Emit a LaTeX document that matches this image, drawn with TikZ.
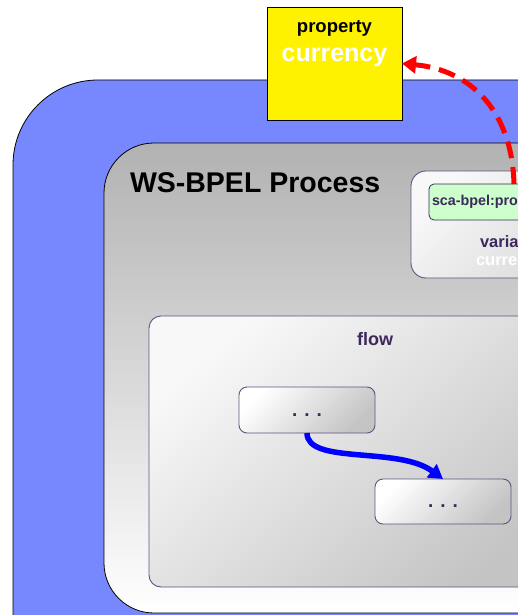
\documentclass[tikz,border=0pt]{standalone}
\usepackage{fontspec}
\setmainfont{Liberation Sans}
\usetikzlibrary{arrows.meta}
\definecolor{bgblue}{RGB}{119,136,255}
\definecolor{purp}{RGB}{100,80,130}
\definecolor{dpurp}{RGB}{60,40,90}
\definecolor{mint}{RGB}{204,255,204}
\definecolor{procgray}{RGB}{178,178,178}
\definecolor{lightA}{RGB}{248,248,248}
\definecolor{darkA}{RGB}{196,196,196}
\begin{document}
\begin{tikzpicture}[x=1pt,y=-1pt,
  every node/.style={inner sep=0pt, outer sep=0pt},
  outerbox/.style={draw=black, line width=0.8pt, fill=bgblue, rounded corners=85pt, anchor=north west},
  procbox/.style={draw=black, line width=0.8pt, top color=procgray, bottom color=white, rounded corners=50pt, anchor=north west},
  varbox/.style={draw=purp, line width=0.9pt, top color=lightA, bottom color=darkA!70!white, shading angle=45, rounded corners=15pt, anchor=north west},
  flowbox/.style={draw=purp, line width=0.9pt, top color=lightA, bottom color=darkA, shading angle=40, rounded corners=12pt, anchor=north west},
  actbox/.style={draw=purp, line width=0.9pt, top color=white, bottom color=darkA, shading angle=45, rounded corners=8pt, anchor=north west, minimum width=136, minimum height=46},
  greenbox/.style={draw=dpurp, line width=0.8pt, fill=mint, rounded corners=5pt, anchor=north west, minimum height=36, minimum width=200, inner xsep=3pt, text width=194pt, align=left, font=\bfseries\fontsize{14.3}{16}\selectfont, text=dpurp},
  propbox/.style={draw=black, line width=0.8pt, fill=yellow, anchor=north west, minimum width=135, minimum height=113},
  dots/.style={font=\bfseries\fontsize{19}{20}\selectfont, text=dpurp},
  flowarrow/.style={draw=blue, line width=5.5pt, -{Triangle[length=14pt,width=16pt]}},
  proparrow/.style={draw=red, line width=5pt, dash pattern=on 17pt off 9pt, -{Triangle[length=14pt,width=17pt]}}
]
\useasboundingbox (0,0) rectangle (518,615);
\clip (0,0) rectangle (518,615);

\node[outerbox, minimum width=700, minimum height=700] (outer) at (13,80) {};
\node[procbox, minimum width=600, minimum height=470] (proc) at (104,143) {};
\node[anchor=base west, font=\bfseries\fontsize{28.5}{32}\selectfont] (ptitle) at (130,192) {WS-BPEL Process};

\node[varbox, minimum width=220, minimum height=107] (var) at (411,171) {};
\node[greenbox] (gprop) at (429,184) {sca-bpel:property};
\node[anchor=base west, font=\bfseries\fontsize{16.5}{20}\selectfont, text=dpurp] (vlabel) at (480,247) {variable};
\node[anchor=base west, font=\bfseries\fontsize{16.5}{20}\selectfont, text=white] (vname) at (476,265) {currency};

\node[flowbox, minimum width=420, minimum height=271] (flow) at (149,316) {};
\node[anchor=base, font=\bfseries\fontsize{18}{20}\selectfont, text=dpurp] (flowlabel) at (375,345) {flow};

\node[actbox] (a1) at (239,387) {};
\node[dots] (d1) at ([yshift=-5pt]a1.center) {. . .};
\node[actbox, minimum height=45] (a2) at (375,479) {};
\node[dots] (d2) at ([yshift=-5pt]a2.center) {. . .};

\draw[flowarrow] (a1.south) .. controls (307,465) and (398,446) .. (a2.north);

\node[propbox] (prop) at (267,7) {};
\node[anchor=base, font=\bfseries\fontsize{18.5}{20}\selectfont] (plabel) at (prop.north |- 0,33) {property};
\node[anchor=base, font=\bfseries\fontsize{25}{28}\selectfont, text=white] (pname) at (prop.north |- 0,62) {currency};

\coordinate (rs) at (514,184);
\draw[proparrow] (rs) .. controls (512,110) and (470,70) .. (prop.east);
\end{tikzpicture}
\end{document}
